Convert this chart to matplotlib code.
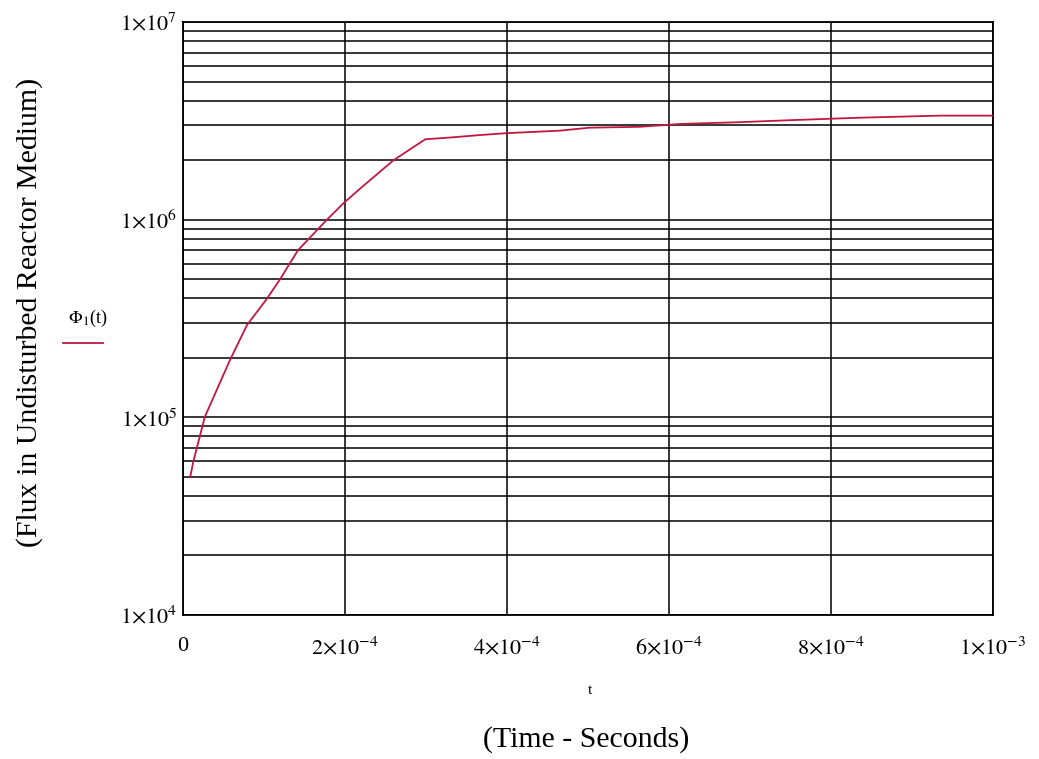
import numpy as np
import matplotlib
matplotlib.use('Agg')
import matplotlib.pyplot as plt
from matplotlib.ticker import FixedLocator, FixedFormatter, LogLocator, NullFormatter
from matplotlib.lines import Line2D

plt.rcParams['font.family'] = ['Liberation Serif', 'DejaVu Serif']
plt.rcParams['mathtext.fontset'] = 'stix'

# flux in undisturbed reactor medium
t_sec = [0.9e-5, 1.27e-5, 2.7e-5, 5.8e-5, 7.9e-5, 1.03e-4, 1.2e-4, 1.42e-4, 1.77e-4,
         1.98e-4, 2.19e-4, 2.6e-4, 2.99e-4, 3.33e-4, 3.67e-4, 4.0e-4, 4.65e-4, 5.02e-4,
         5.64e-4, 6.14e-4, 6.84e-4, 7.53e-4, 8.36e-4, 9.35e-4, 1.0e-3]
phi1 = [5.01e4, 5.96e4, 1.007e5, 1.95e5, 2.93e5, 3.95e5, 5.01e5, 7.01e5, 9.93e5,
        1.21e6, 1.44e6, 2.0e6, 2.55e6, 2.61e6, 2.68e6, 2.74e6, 2.82e6, 2.92e6,
        2.95e6, 3.05e6, 3.11e6, 3.19e6, 3.28e6, 3.36e6, 3.36e6]

xticks = [0, 2e-4, 4e-4, 6e-4, 8e-4, 1e-3]
xlabels = ['0', r'$2{\times}10^{-4}$', r'$4{\times}10^{-4}$', r'$6{\times}10^{-4}$',
           r'$8{\times}10^{-4}$', r'$1{\times}10^{-3}$']
yticks = [1e4, 1e5, 1e6, 1e7]
ylabels = [r'$1{\times}10^{4}$', r'$1{\times}10^{5}$', r'$1{\times}10^{6}$', r'$1{\times}10^{7}$']

fig = plt.figure(figsize=(10.39, 7.59), dpi=100)
ax = fig.add_axes([183/1039, 1-615/759, 810/1039, 593/759])

ax.plot(t_sec, phi1, color='#c01840', lw=1.3, zorder=3)

ax.set_yscale('log')
ax.set_xlim(0, 1e-3)
ax.set_ylim(1e4, 1e7)

ax.xaxis.set_major_locator(FixedLocator(xticks))
ax.xaxis.set_major_formatter(FixedFormatter(xlabels))
ax.yaxis.set_major_locator(FixedLocator(yticks))
ax.yaxis.set_major_formatter(FixedFormatter(ylabels))
ax.yaxis.set_minor_locator(LogLocator(base=10, subs=np.arange(2, 10)))
ax.yaxis.set_minor_formatter(NullFormatter())

ax.grid(True, which='both', axis='y', color='black', lw=1.1)
ax.grid(True, which='major', axis='x', color='black', lw=1.1)
ax.tick_params(which='both', length=0)
ax.tick_params(axis='x', labelsize=16, pad=16)
ax.tick_params(axis='y', labelsize=16, pad=4)
for s in ax.spines.values():
    s.set_linewidth(1.3)

# MathCad style axis labels
fig.text(590/1039, 1-690/759, 't', fontsize=11, ha='center', va='center')
fig.text(586/1039, 1-740/759, '(Time - Seconds)', fontsize=21.5, ha='center', va='center')
fig.text(30/1039, 1-312/759, '(Flux in Undisturbed Reactor Medium)', fontsize=21.5,
         rotation=90, ha='center', va='center')
fig.text(88/1039, 1-318/759, r'$\Phi_1$(t)', fontsize=13, ha='center', va='center')
fig.add_artist(Line2D([63/1039, 103/1039], [1-343/759, 1-343/759], color='#c01840', lw=1.3))

plt.savefig('out.png', dpi=100)
